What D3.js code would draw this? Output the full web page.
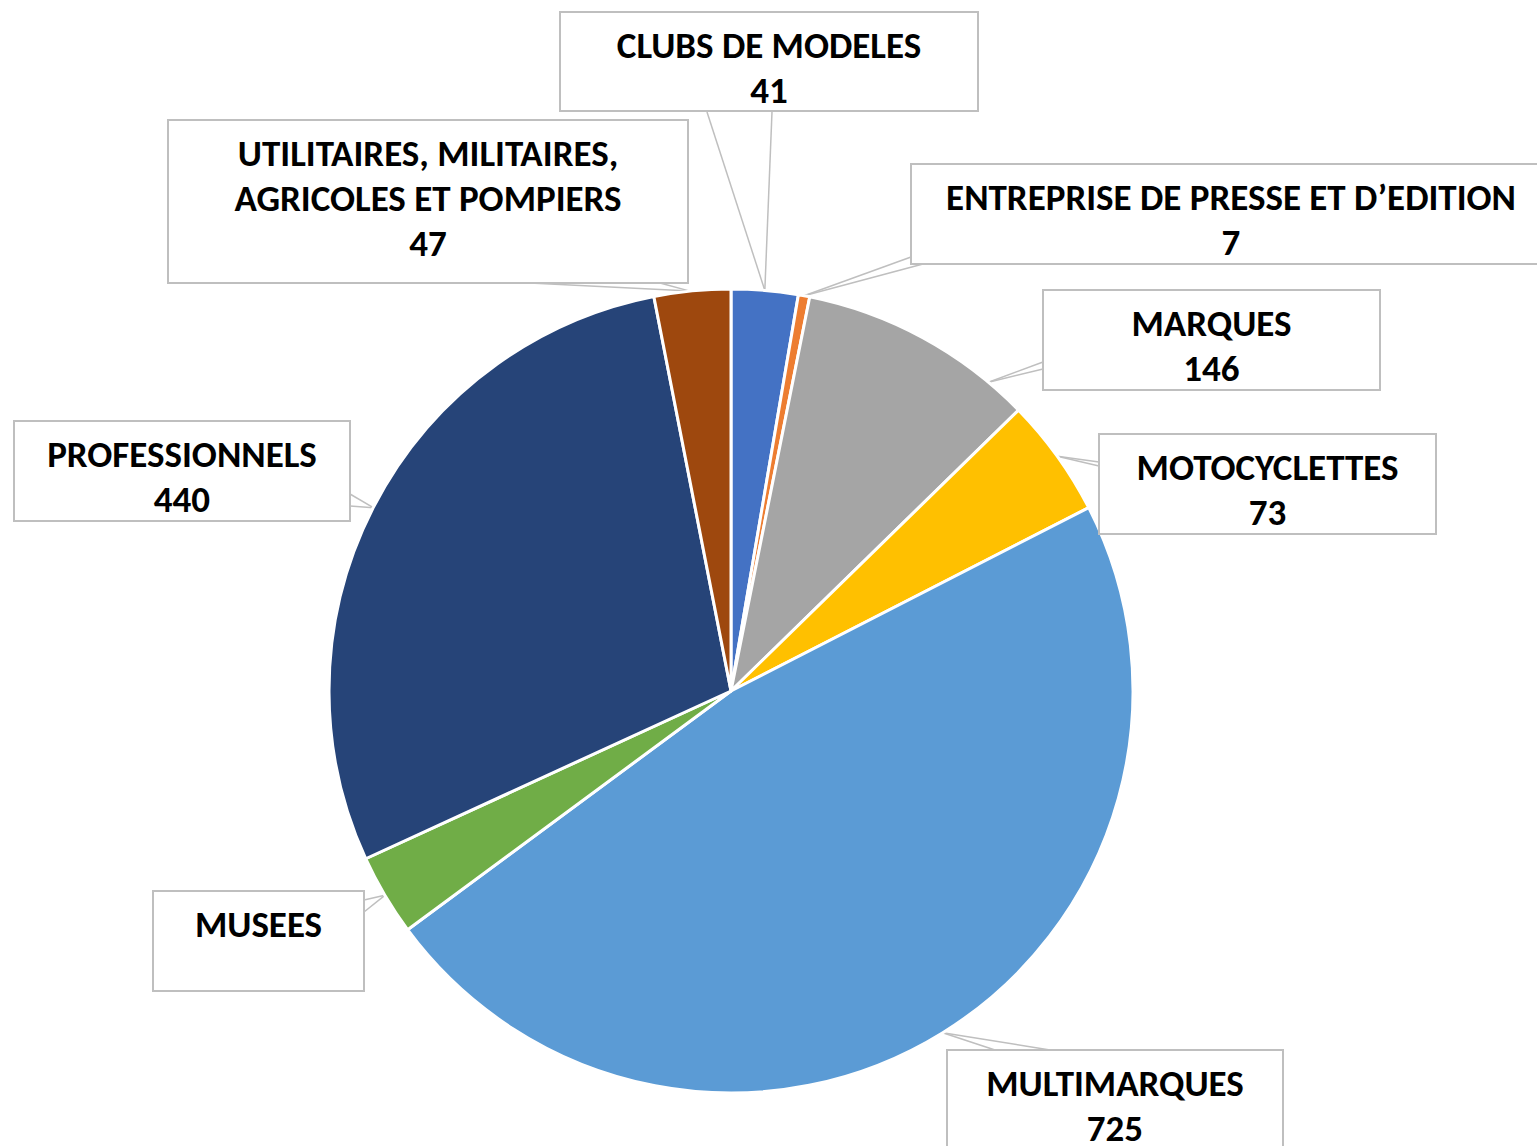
<!DOCTYPE html>
<html>
<head>
<meta charset="utf-8">
<script src="https://cdn.jsdelivr.net/npm/d3@7"></script>
<style>
  html, body { margin: 0; padding: 0; background: #fff; overflow: hidden; }
  svg { display: block; }
  .box-text { font-family: Carlito, Lato, "Open Sans", sans-serif; font-weight: 700; font-size: 37px; fill: #000; }
</style>
</head>
<body>
<svg id="pie-chart" width="1537" height="1146"></svg>
<script>
// Data, clockwise from 12 o'clock
const categories = [
  "CLUBS DE MODELES",
  "ENTREPRISE DE PRESSE ET D’EDITION",
  "MARQUES",
  "MOTOCYCLETTES",
  "MULTIMARQUES",
  "MUSEES",
  "PROFESSIONNELS",
  "UTILITAIRES, MILITAIRES, AGRICOLES ET POMPIERS"
];
const values = [41, 7, 146, 73, 725, 50, 440, 47];
// label text split into lines as in the reference
const labelLines = [
  ["CLUBS DE MODELES"],
  ["ENTREPRISE DE PRESSE ET D’EDITION"],
  ["MARQUES"],
  ["MOTOCYCLETTES"],
  ["MULTIMARQUES"],
  ["MUSEES"],
  ["PROFESSIONNELS"],
  ["UTILITAIRES, MILITAIRES,", "AGRICOLES ET POMPIERS"]
];
const showValue = [true, true, true, true, true, false, true, true];
const colors = ["#4472C4", "#ED7D31", "#A5A5A5", "#FFC000", "#5B9BD5", "#70AD47", "#264478", "#9E480E"];

// Label box layout (x, y, w, h), the two points where the leader meets the box,
// and where along the slice the leader touches the arc (0..1)
const labelBoxes = [
  { x: 560, y: 12,   w: 418, h: 99,  p1: [707, 112],  p2: [772, 112],  t: 0.5 },
  { x: 911, y: 164,  w: 640, h: 100, p1: [911, 257],  p2: [923, 264],  t: 0.5 },
  { x: 1043, y: 290, w: 337, h: 100, p1: [1043, 362], p2: [1043, 369], t: 0.83 },
  { x: 1099, y: 434, w: 337, h: 100, p1: [1099, 462], p2: [1099, 466], t: 0.5 },
  { x: 947, y: 1050, w: 336, h: 110, p1: [995, 1050], p2: [1050, 1050], t: 0.5 },
  { x: 153, y: 891,  w: 211, h: 100, p1: [364, 900],  p2: [364, 912],  t: 0.5 },
  { x: 14,  y: 421,  w: 336, h: 100, p1: [350, 494],  p2: [350, 506],  t: 0.5 },
  { x: 168, y: 120,  w: 520, h: 163, p1: [530, 283],  p2: [660, 283],  t: 0.47 }
];

const svg = d3.select("#pie-chart");
const cx = 731, cy = 691, radius = 402;

const pie = d3.pie().sort(null).value((d) => d)(values);
const arc = d3.arc().innerRadius(0).outerRadius(radius);

// leader lines (drawn under the slices and boxes)
const gLeaders = svg.append("g").attr("class", "leaders");
const gPie = svg.append("g").attr("transform", `translate(${cx}, ${cy})`);

pie.forEach((d, i) => {
  const b = labelBoxes[i];
  const a = d.startAngle + b.t * (d.endAngle - d.startAngle);
  const ax = cx + radius * Math.sin(a);
  const ay = cy - radius * Math.cos(a);
  [b.p1, b.p2].forEach((p) => {
    gLeaders.append("line")
      .attr("x1", ax).attr("y1", ay)
      .attr("x2", p[0]).attr("y2", p[1])
      .attr("stroke", "#BFBFBF")
      .attr("stroke-width", 1.5);
  });
});

gPie.selectAll("path.slice")
  .data(pie)
  .enter()
  .append("path")
  .attr("class", "slice")
  .attr("d", arc)
  .attr("fill", (d, i) => colors[i])
  .attr("stroke", "#fff")
  .attr("stroke-width", 3)
  .attr("stroke-linejoin", "round");

// label boxes
const gLabels = svg.append("g").attr("class", "labels");
labelBoxes.forEach((b, i) => {
  const g = gLabels.append("g");
  g.append("rect")
    .attr("x", b.x).attr("y", b.y)
    .attr("width", b.w).attr("height", b.h)
    .attr("fill", "#fff")
    .attr("stroke", "#BFBFBF")
    .attr("stroke-width", 2);
  const lines = labelLines[i].slice();
  if (showValue[i]) lines.push(String(values[i]));
  lines.forEach((txt, k) => {
    g.append("text")
      .attr("class", "box-text")
      .attr("x", b.x + b.w / 2)
      .attr("y", b.y + 46 + k * 45)
      .attr("text-anchor", "middle")
      .text(txt);
  });
});
</script>
</body>
</html>
